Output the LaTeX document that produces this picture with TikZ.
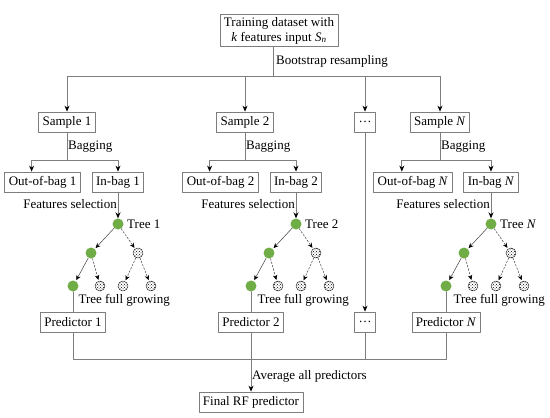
\documentclass[tikz,border=0pt]{standalone}
\usepackage{fontspec}
\setmainfont{Liberation Serif}
\usetikzlibrary{positioning,arrows.meta,patterns}
\begin{document}
\begin{tikzpicture}[x=1pt, y=-1pt, line cap=round, line join=round,
  font=\fontsize{13}{15}\selectfont]
  \definecolor{leafgreen}{RGB}{112,173,71}
  \definecolor{linegray}{RGB}{125,125,125}
  \tikzset{
    box/.style={draw=linegray, line width=0.8pt, inner xsep=4pt, inner ysep=2pt, minimum height=20pt},
    wire/.style={draw=linegray, line width=0.8pt},
    flow/.style={wire, -{Stealth[length=6pt,width=5pt,black]}},
    solidedge/.style={draw=black!75, line width=0.5pt, shorten >=1pt, -{Stealth[length=5pt,width=4.5pt,black]}},
    dashedge/.style={solidedge, dash pattern=on 2pt off 1.5pt},
    gnode/.style={circle, fill=leafgreen, minimum size=11pt, inner sep=0pt},
    pnode/.style={circle, draw=black!80, line width=0.5pt, pattern=crosshatch dots, minimum size=10pt, inner sep=0pt},
    note/.style={inner sep=1pt}
  }
  \useasboundingbox (0,0) rectangle (550,418);

  % source data and resampling
  \node[box, align=center, inner ysep=3pt] (data) at (279,30.5) {Training dataset with\\\textit{k} features input \textit{S}\textsubscript{\textit{n}}};
  \coordinate (boot) at (273,76);
  \node[note, anchor=west] (boottext) at (275,61) {Bootstrap resampling};
  \node[box] (s1) at (67,122) {Sample 1};
  \node[box] (s2) at (245,122) {Sample 2};
  \node[box] (dotsA) at (365,122) {\dots};
  \node[box] (sN) at (440,122) {Sample \textit{N}};
  \draw[wire] (data.south -| boot) -- (boot);
  \draw[flow] (boot) -| (s1.north);
  \draw[flow] (boot) -| (s2.north);
  \draw[flow] (boot) -| (dotsA.north);
  \draw[flow] (boot) -| (sN.north);

  % bagging
  \node[box] (in1) at (118,182) {In-bag 1};
  \node[box, left=11pt of in1] (oob1) {Out-of-bag 1};
  \node[box] (in2) at (296,182) {In-bag 2};
  \node[box, left=11pt of in2] (oob2) {Out-of-bag 2};
  \node[box] (inN) at (491,182) {In-bag \textit{N}};
  \node[box, left=11pt of inN] (oobN) {Out-of-bag \textit{N}};
  \coordinate (bag1) at (67,160);
  \coordinate (bag2) at (245,160);
  \coordinate (bagN) at (440,160);
  \node[note, anchor=west] (bagtext1) at (67,147) {Bagging};
  \node[note, anchor=west] (bagtext2) at (245,147) {Bagging};
  \node[note, anchor=west] (bagtextN) at (440,147) {Bagging};
  \draw[wire] (s1.south) -- (bag1);
  \draw[wire] (s2.south) -- (bag2);
  \draw[wire] (sN.south) -- (bagN);
  \draw[flow] (bag1) -| ([xshift=-11pt]oob1.north);
  \draw[flow] (bag1) -| (in1.north);
  \draw[flow] (bag2) -| ([xshift=-11pt]oob2.north);
  \draw[flow] (bag2) -| (in2.north);
  \draw[flow] (bagN) -| ([xshift=-11pt]oobN.north);
  \draw[flow] (bagN) -| (inN.north);

  % tree 1
  \node[note, anchor=east] (feat1) at (118,204) {Features selection};
  \node[gnode] (t1) at (118,224) {};
  \node[anchor=west] (t1lab) at (t1.east) {Tree 1};
  \node[gnode] (t1a) at (91,253) {};
  \node[pnode] (t1b) at (138,253) {};
  \node[gnode] (t1c) at (73,286) {};
  \node[pnode] (t1d) at (100,286) {};
  \node[pnode] (t1e) at (123,286) {};
  \node[pnode] (t1f) at (151,286) {};
  \node[anchor=west] (full1) at (75,300) {Tree full growing};
  \draw[flow] (in1) -- (t1);
  \draw[solidedge] (t1) -- (t1a);
  \draw[dashedge] (t1) -- (t1b);
  \draw[solidedge] (t1a) -- (t1c);
  \draw[dashedge] (t1a) -- (t1d);
  \draw[dashedge] (t1b) -- (t1e);
  \draw[dashedge] (t1b) -- (t1f);

  % tree 2
  \node[note, anchor=east] (feat2) at (296,204) {Features selection};
  \node[gnode] (t2) at (296,224) {};
  \node[anchor=west] (t2lab) at (t2.east) {Tree 2};
  \node[gnode] (t2a) at (269,253) {};
  \node[pnode] (t2b) at (316,253) {};
  \node[gnode] (t2c) at (251,286) {};
  \node[pnode] (t2d) at (278,286) {};
  \node[pnode] (t2e) at (301,286) {};
  \node[pnode] (t2f) at (329,286) {};
  \node[anchor=west] (full2) at (254,300) {Tree full growing};
  \draw[flow] (in2) -- (t2);
  \draw[solidedge] (t2) -- (t2a);
  \draw[dashedge] (t2) -- (t2b);
  \draw[solidedge] (t2a) -- (t2c);
  \draw[dashedge] (t2a) -- (t2d);
  \draw[dashedge] (t2b) -- (t2e);
  \draw[dashedge] (t2b) -- (t2f);

  % tree N
  \node[note, anchor=east] (featN) at (491,204) {Features selection};
  \node[gnode] (tN) at (491,224) {};
  \node[anchor=west] (tNlab) at (tN.east) {Tree \textit{N}};
  \node[gnode] (tNa) at (464,253) {};
  \node[pnode] (tNb) at (511,253) {};
  \node[gnode] (tNc) at (446,286) {};
  \node[pnode] (tNd) at (473,286) {};
  \node[pnode] (tNe) at (496,286) {};
  \node[pnode] (tNf) at (524,286) {};
  \node[anchor=west] (fullN) at (450,300) {Tree full growing};
  \draw[flow] (inN) -- (tN);
  \draw[solidedge] (tN) -- (tNa);
  \draw[dashedge] (tN) -- (tNb);
  \draw[solidedge] (tNa) -- (tNc);
  \draw[dashedge] (tNa) -- (tNd);
  \draw[dashedge] (tNb) -- (tNe);
  \draw[dashedge] (tNb) -- (tNf);

  % predictors and averaging
  \node[box] (p1) at (73,322) {Predictor 1};
  \node[box] (p2) at (251,322) {Predictor 2};
  \node[box] (dotsB) at (365,322) {\dots};
  \node[box] (pN) at (446,322) {Predictor \textit{N}};
  \draw[wire] (t1c) -- (p1);
  \draw[wire] (t2c) -- (p2);
  \draw[wire] (tNc) -- (pN);
  \draw[flow] (dotsA) -- (dotsB);
  \coordinate (avg) at (251,359);
  \node[note, anchor=west] (avgtext) at (251,376) {Average all predictors};
  \node[box] (final) at (251,402) {Final RF predictor};
  \draw[wire] (p1.south) |- (avg);
  \draw[wire] (pN.south) |- (avg);
  \draw[wire] (dotsB.south) |- (avg);
  \draw[wire] (p2.south) -- (avg);
  \draw[flow] (avg) -- (final);
\end{tikzpicture}
\end{document}
